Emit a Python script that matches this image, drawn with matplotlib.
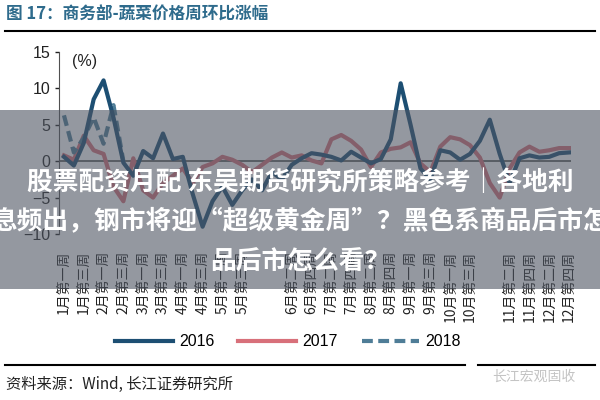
import matplotlib
matplotlib.use("Agg")
import matplotlib.pyplot as plt
from matplotlib.patches import Rectangle
from matplotlib.lines import Line2D

plt.rcParams['font.family'] = ['Liberation Sans', 'Noto Sans CJK SC', 'DejaVu Sans']

# weekly categories (52 weeks), labels only on some of them
tick_pos = [0, 2, 4, 6, 8, 10, 12, 14, 16, 18,
            23, 25, 27, 29, 31, 33, 35, 37, 39, 41,
            45, 47, 49, 51]
tick_labels = ["1月第一周", "1月第三周", "2月第一周", "2月第三周", "3月第一周",
               "3月第三周", "4月第一周", "4月第三周", "5月第一周", "5月第三周",
               "6月第二周", "6月第四周", "7月第二周", "7月第四周", "8月第二周",
               "8月第四周", "9月第一周", "9月第三周", "10月第一周", "10月第三周",
               "11月第二周", "11月第四周", "12月第二周", "12月第四周"]

v2016 = [0.6, -0.6, 2.5, 8.5, 11.1, 6.0, -0.2, -2.0, 1.4, 0.4,
         3.8, 0.3, 0.6, -4.5, -9.0, -5.5, -3.5, -6.0, -4.0, -2.5,
         -4.0, -1.5, -2.5, -0.5, 0.4, 1.1, 0.9, 0.6, 0.1, 1.3,
         0.5, -0.3, 0.3, 3.0, 10.7, 5.0, -1.0, -2.5, 1.5, 1.2,
         0.2, 1.0, 2.8, 5.7, 1.0, -3.0, 0.4, 0.8, 0.5, 0.6,
         1.1, 1.2]
v2017 = [0.8, 0.2, 3.5, 1.5, 1.0, -3.5, -5.5, 0.4, -4.0, -5.0,
         -3.0, -2.0, -1.0, -3.0, -0.8, -0.3, 0.6, 0.2, -0.5, -1.5,
         -0.5, 0.5, 1.2, 0.5, 0.8, 0.1, -0.3, 3.0, 3.6, 2.8,
         1.6, -0.8, 1.2, 1.7, 1.9, 2.6, -0.3, -1.5, 2.0, 3.3,
         3.0, 2.2, 0.5, -3.0, -5.0, -1.0, 1.2, 2.0, 1.3, 1.5,
         1.8, 1.8]
v2018 = [6.3, 1.2, 3.2, 6.0, 2.4, 7.7, 0.0]

c2016 = '#1d4f73'
c2017 = '#d8707a'
c2018 = '#4f7d97'

fig = plt.figure(figsize=(6, 4), dpi=100)
ax = fig.add_axes([59/600, 1-234/400, 512/600, 182/400])

ax.axhline(0, color='#505050', lw=1.2, zorder=1)
ax.plot(range(len(v2016)), v2016, color=c2016, lw=3, solid_joinstyle='round', zorder=3, label='2016')
ax.plot(range(len(v2017)), v2017, color=c2017, lw=3, solid_joinstyle='round', zorder=2, label='2017')
ax.plot(range(len(v2018)), v2018, color=c2018, lw=3, ls=(0, (2.6, 1.3)), zorder=2, label='2018')

ax.set_xlim(-0.5, 51.2)
ax.set_ylim(-10, 15)
ax.set_yticks([-10, -5, 0, 5, 10, 15])
ax.tick_params(axis='y', direction='out', length=3, width=1, pad=3,
               labelsize=11.5, colors='#222222')
ax.set_xticks(tick_pos)
ax.set_xticklabels(tick_labels, rotation=90, fontsize=10,
                   family=['Noto Sans CJK SC', 'DejaVu Sans'], color='#222222')
ax.tick_params(axis='x', length=0, pad=12)
for s in ['top', 'right', 'bottom']:
    ax.spines[s].set_visible(False)
ax.spines['left'].set_color('#505050')
ax.text(0.025, 0.95, '(%)', transform=ax.transAxes, fontsize=11.5,
        ha='left', va='center', color='#222222')

# legend
handles = [Line2D([], [], color=c2016, lw=3),
           Line2D([], [], color=c2017, lw=3),
           Line2D([], [], color=c2018, lw=3, ls=(0, (2.6, 1.3)))]
fig.legend(handles, ['2016', '2017', '2018'], loc='center',
           bbox_to_anchor=(288/600, 1-342/400), ncol=3, frameon=False,
           fontsize=11.5, handlelength=3.6, handletextpad=0.4, columnspacing=1.5)

# header / footer
fig.text(6/600, 1-15/400, '图 17：商务部-蔬菜价格周环比涨幅', fontsize=12,
         color='#2e6b8c', fontweight='bold', ha='left', va='center',
         family=['Noto Sans CJK SC', 'DejaVu Sans'])
fig.add_artist(Line2D([5/600, 595/600], [1-31/400, 1-31/400], color='black', lw=1.5))
fig.add_artist(Line2D([5/600, 465/600], [1-365/400, 1-365/400], color='black', lw=1.5))
fig.add_artist(Line2D([478/600, 595/600], [1-365/400, 1-365/400], color='black', lw=1.5))
fig.text(6/600, 1-384/400, '资料来源：Wind, 长江证券研究所', fontsize=11,
         color='#222222', ha='left', va='center',
         family=['Noto Sans CJK SC', 'DejaVu Sans'])
fig.text(492/600, 1-377/400, '长江宏观固收', fontsize=10, color='#c4c4c4',
         ha='left', va='center', family=['Noto Sans CJK SC', 'DejaVu Sans'])

# grey overlay band with white headline
fig.patches.append(Rectangle((0, 1-289/400), 1, 179/400, transform=fig.transFigure,
                             facecolor=(0.30, 0.33, 0.38), alpha=0.6,
                             edgecolor='none', zorder=4))
lines = ['股票配资月配 东吴期货研究所策略参考｜各地利',
         '息频出，钢市将迎“超级黄金周”？黑色系商品后市怎',
         '品后市怎么看？']
for txt, yy in zip(lines, [182, 222, 262]):
    fig.text(0.5, 1-yy/400, txt, fontsize=18.5, fontweight='bold', color='white',
             ha='center', va='center', zorder=6,
             family=['Noto Sans CJK SC', 'DejaVu Sans'])

fig.savefig('out.png', dpi=100)
